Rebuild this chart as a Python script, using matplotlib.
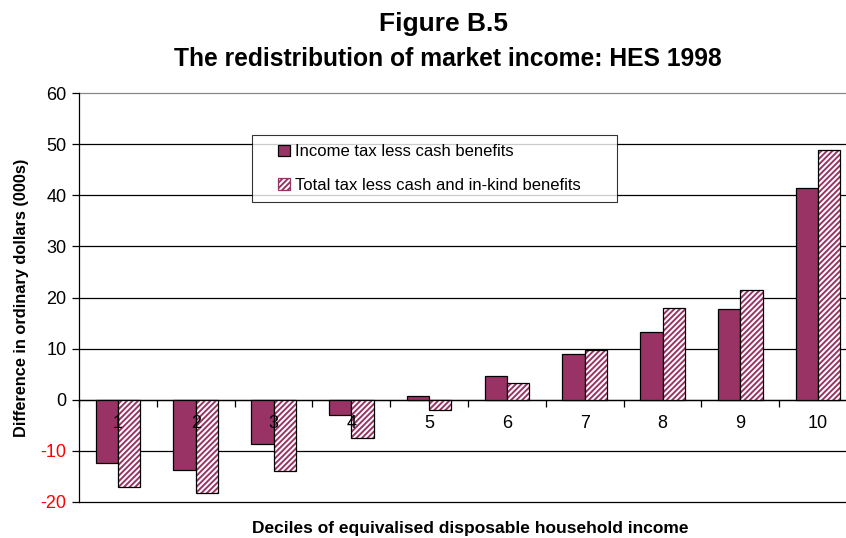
import matplotlib

matplotlib.use("Agg")
import matplotlib.pyplot as plt
import numpy as np
from matplotlib.legend_handler import HandlerPatch
from matplotlib.patches import Patch, Rectangle

plt.rcParams["font.family"] = ["Liberation Sans", "DejaVu Sans"]
plt.rcParams["hatch.linewidth"] = 1.4

PLUM = "#993366"

deciles = ["1", "2", "3", "4", "5", "6", "7", "8", "9", "10"]
income_tax = [-12.4, -13.7, -8.6, -3.0, 0.8, 4.6, 9.0, 13.3, 17.7, 41.4]
total_tax = [-17.0, -18.3, -14.0, -7.4, -2.0, 3.2, 9.7, 17.9, 21.4, 48.9]
y_ticks = [-20, -10, 0, 10, 20, 30, 40, 50, 60]


def square_handle(legend, orig_handle, xdescent, ydescent, width, height, fontsize):
    # small square pushed to the right end of the handle slot
    return Rectangle((width - height - xdescent, -ydescent), height, height)


fig = plt.figure(figsize=(8.46, 5.38), dpi=100)
# plot area runs slightly past the right edge of the figure
ax = fig.add_axes([79 / 846, 36 / 538, 778 / 846, 409 / 538])

x = np.arange(len(deciles))
width = 0.287

ax.bar(x - width / 2, income_tax, width, color=PLUM, edgecolor="black", linewidth=0.9, zorder=3)
# hatched bars: pattern first, black outline drawn on top
ax.bar(x + width / 2, total_tax, width, color="white", edgecolor=PLUM, hatch="//////", linewidth=0, zorder=3)
ax.bar(x + width / 2, total_tax, width, fill=False, edgecolor="black", linewidth=0.9, zorder=4)

ax.set_xlim(-0.5, len(deciles) - 0.5)
ax.set_ylim(-20, 60)
ax.set_yticks(y_ticks)
ax.set_yticklabels([str(v) for v in y_ticks], fontsize=13)
for lbl, v in zip(ax.get_yticklabels(), y_ticks):
    if v < 0:
        lbl.set_color("red")
ax.tick_params(axis="y", length=5, width=0.9, pad=4)

for v in y_ticks:
    ax.axhline(v, color="#888888" if v == 60 else "black", linewidth=0.9, zorder=1, clip_on=False)

# category axis sits on the zero line
ax.spines["bottom"].set_position(("data", 0))
ax.spines["bottom"].set_linewidth(0.9)
ax.set_xticks(np.arange(len(deciles) + 1) - 0.5)
ax.set_xticklabels([])
ax.tick_params(axis="x", length=5, width=0.9, direction="out")
for xi, lab in zip(x, deciles):
    ax.text(xi, -2.9, lab, ha="center", va="top", fontsize=13, zorder=5)

ax.spines["left"].set_linewidth(0.9)
ax.spines["top"].set_visible(False)
ax.spines["right"].set_visible(False)

ax.set_ylabel("Difference in ordinary dollars (000s)", fontsize=11.8, fontweight="bold")
ax.yaxis.set_label_coords(-50 / 778, 0.5)
fig.text(470 / 846, 1 - 528 / 538, "Deciles of equivalised disposable household income",
         ha="center", va="center", fontsize=12.5, fontweight="bold")

fig.text(443 / 846, 1 - 24 / 538, "Figure B.5", ha="center", va="center", fontsize=19, fontweight="bold")
fig.text(448 / 846, 1 - 59 / 538, "The redistribution of market income: HES 1998",
         ha="center", va="center", fontsize=17.7, fontweight="bold")

handles = [
    Patch(facecolor=PLUM, edgecolor="black", linewidth=0.9),
    Patch(facecolor="white", edgecolor=PLUM, hatch="//////", linewidth=0.9),
]
leg_x0 = (252 - 79) / 778
leg_top = 1 - (135 - 93) / 409
leg = ax.legend(handles, ["Income tax less cash benefits", "Total tax less cash and in-kind benefits"],
                loc="upper left", bbox_to_anchor=(leg_x0, leg_top - 0.2, 365 / 778, 0.2), mode="expand",
                fontsize=12, frameon=True, fancybox=False, edgecolor="black",
                handlelength=1.7, handleheight=0.7, handletextpad=0.3,
                labelspacing=1.1, borderpad=0.55, borderaxespad=0,
                handler_map={Patch: HandlerPatch(patch_func=square_handle)})
leg.get_frame().set_linewidth(0.8)
leg.set_zorder(6)

fig.savefig("out.png", dpi=100)
